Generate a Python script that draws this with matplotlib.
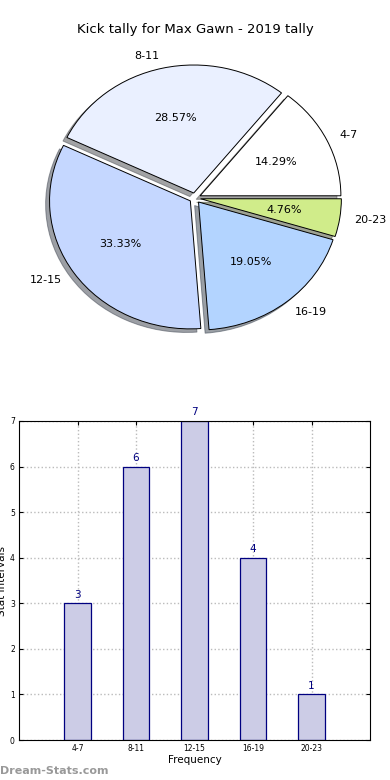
import numpy as np
import matplotlib.pyplot as plt

# data
categories = ['4-7', '8-11', '12-15', '16-19', '20-23']
counts = [3, 6, 7, 4, 1]
pie_colors = ['#ffffff', '#eaf0ff', '#c5d7ff', '#b3d4ff', '#d0ec8a']

fig = plt.figure(figsize=(3.9, 7.8), dpi=100)

# pie chart (slightly squashed, like the original)
ax1 = fig.add_axes([19/390, 1 - 358/780, 352/390, 320/780])
ax1.pie(counts, labels=categories, colors=pie_colors, autopct='%1.2f%%',
        explode=[0.04] * len(counts), shadow=True, startangle=0,
        wedgeprops={'edgecolor': 'black', 'linewidth': 0.7},
        textprops={'fontsize': 8})
ax1.set_aspect('auto')
ax1.set_xlim(-1.25, 1.25)
ax1.set_ylim(-1.25, 1.25)
fig.text(0.5, 1 - 30/780, 'Kick tally for Max Gawn - 2019 tally',
         ha='center', va='center', fontsize=9.5)

# bar chart
ax2 = fig.add_axes([19/390, 1 - 740/780, 351/390, 319/780])
x = np.arange(len(categories))
bars = ax2.bar(x, counts, width=0.45, color='#ccccE6', edgecolor='#000080', linewidth=0.9)
for b, v in zip(bars, counts):
    ax2.text(b.get_x() + b.get_width() / 2, v + 0.08, str(v),
             ha='center', va='bottom', color='#000080', fontsize=7.5)
ax2.set_xlim(-1, 5)
ax2.set_ylim(0, 7)
ax2.set_xticks(x)
ax2.set_xticklabels(categories)
ax2.set_yticks(range(8))
ax2.tick_params(labelsize=5.5, direction='in', top=True, right=True, length=3, pad=3)
ax2.grid(True, linestyle=':', color='#bbbbbb', linewidth=1)
ax2.set_axisbelow(True)
ax2.set_xlabel('Frequency', fontsize=7.5, labelpad=1)
ax2.set_ylabel('Stat Intervals', fontsize=7.5, labelpad=2)

fig.text(0.0, 1 - 771/780, 'Dream-Stats.com', color='#999999', fontsize=8,
         ha='left', va='center', fontweight='bold')

fig.savefig('out.png', dpi=100)
